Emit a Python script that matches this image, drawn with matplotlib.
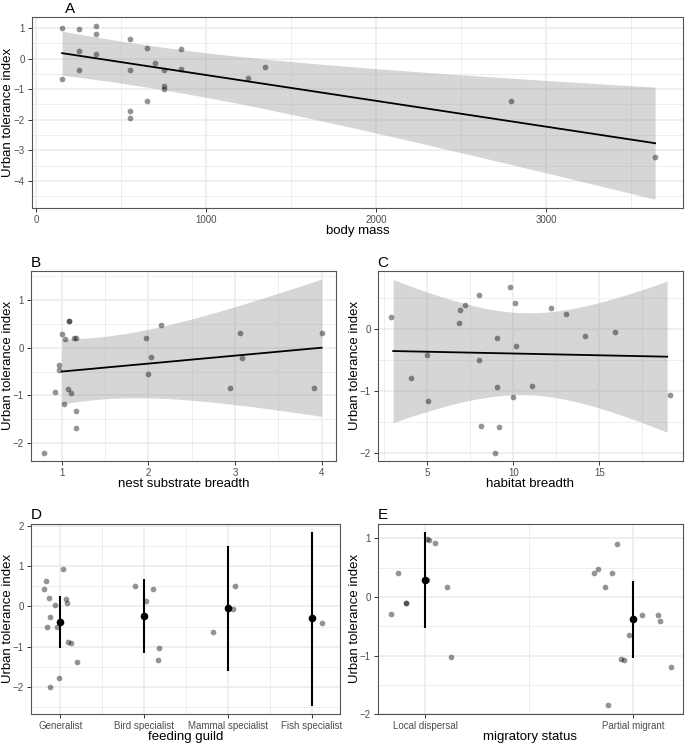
import numpy as np
import matplotlib
matplotlib.use("Agg")
import matplotlib.pyplot as plt

plt.rcParams['font.family'] = ['Liberation Sans', 'DejaVu Sans']

YLAB = "Urban tolerance index"

# ---------------- Panel A: body mass ----------------
mass_x = [153, 153, 253, 253, 253, 353, 353, 353, 552, 552, 552, 552,
          652, 652, 701, 752, 752, 752, 851, 851, 1248, 1348, 2793, 3639]
mass_y = [0.995, -0.675, 0.96, 0.25, -0.37, 1.08, 0.82, 0.155, 0.635, -0.37, -1.70, -1.95,
          0.33, -1.385, -0.14, -0.39, -0.89, -0.98, 0.32, -0.33, -0.62, -0.29, -1.386, -3.23]
mass_fit_x = [153, 3640]
mass_fit_y = [0.177, -2.77]
mass_ci_x = [153, 996, 3640]
mass_ci_hw = [0.72, 0.73, 1.834]

# ---------------- Panel B: nest substrate breadth ----------------
nest_x = [0.80, 0.92, 0.97, 0.97, 1.00, 1.03, 1.04, 1.08, 1.08, 1.076, 1.107, 1.14,
          1.17, 1.16, 1.16, 1.97, 1.99, 2.03, 2.145, 2.946, 3.06, 3.08, 3.91, 4.00]
nest_y = [-2.20, -0.92, -0.36, -0.47, 0.28, -1.19, 0.18, 0.56, 0.56, -0.87, -0.94, 0.21,
          0.21, -1.32, -1.68, 0.21, -0.55, -0.195, 0.476, -0.85, 0.315, -0.21, -0.84, 0.315]
nest_fit_x = [1.0, 4.0]
nest_fit_y = [-0.50, 0.0]
nest_ci_x = [1.0, 2.0, 4.0]
nest_ci_hw = [0.68, 0.72, 1.44]

# ---------------- Panel C: habitat breadth ----------------
hab_x = [2.89, 4.05, 4.98, 5.06, 6.83, 6.92, 7.17, 8.0, 8.0, 8.14, 8.92, 9.03,
         9.03, 9.19, 9.81, 10.0, 10.1, 10.14, 11.09, 12.17, 13.05, 14.17, 15.93, 19.11]
hab_y = [0.20, -0.78, -0.41, -1.16, 0.10, 0.305, 0.39, 0.54, -0.50, -1.555, -1.99, -0.14,
         -0.94, -1.58, 0.67, -1.09, 0.42, -0.28, -0.91, 0.34, 0.24, -0.11, -0.05, -1.06]
hab_fit_x = [3.02, 18.95]
hab_fit_y = [-0.354, -0.445]
hab_ci_x = [3.02, 10.5, 18.95]
hab_ci_hw = [1.15, 0.66, 1.215]

# ---------------- Panel D: feeding guild ----------------
guild_labels = ["Generalist", "Bird specialist", "Mammal specialist", "Fish specialist"]
guild_pt_x = [0.80, 0.83, 0.84, 0.87, 0.88, 0.88, 0.94, 0.96, 0.98, 1.03, 1.07, 1.08, 1.09, 1.13, 1.20,
              1.89, 2.02, 2.10, 2.18, 2.16,
              2.82, 3.06, 3.08,
              4.12]
guild_pt_y = [0.44, 0.64, -0.51, 0.21, -2.02, -0.26, 0.03, -0.51, -1.78, 0.93, 0.18, 0.08, -0.89, -0.92, -1.38,
              0.51, 0.13, 0.43, -1.04, -1.33,
              -0.64, -0.075, 0.51,
              -0.42]
guild_mean = [-0.38, -0.23, -0.04, -0.30]
guild_lo = [-1.04, -1.15, -1.61, -2.48]
guild_hi = [0.27, 0.68, 1.52, 1.87]

# ---------------- Panel E: migratory status ----------------
mig_labels = ["Local dispersal", "Partial migrant"]
mig_pt_x = [0.837, 0.867, 0.905, 0.905, 1.01, 1.016, 1.01, 1.046, 1.106, 1.123,
            1.81, 1.83, 1.865, 1.88, 1.90, 1.92, 1.94, 1.955, 1.98, 2.04, 2.12, 2.13, 2.18]
mig_pt_y = [-0.29, 0.41, -0.11, -0.11, 0.98, 0.97, 0.29, 0.91, 0.175, -1.03,
            0.41, 0.47, 0.175, -1.85, 0.40, 0.90, -1.06, -1.08, -0.655, -0.305, -0.305, -0.41, -1.20]
mig_mean = [0.28, -0.38]
mig_lo = [-0.53, -1.04]
mig_hi = [1.10, 0.27]

W, H = 685, 745
fig = plt.figure(figsize=(W / 100, H / 100), dpi=100)


def add_ax(left, top, right, bottom):
    return fig.add_axes([left / W, 1 - bottom / H, (right - left) / W, (bottom - top) / H])


GRID = '#EBEBEB'
BORDER = '#555555'
TICKC = '#4D4D4D'


def style(ax, xlim, ylim, xmaj, xmin, ymaj, ymin, ylab_px, ax_left_px, ax_w_px, ax_h_px, xlabel, title, title_x=0.0):
    ax.set_xlim(*xlim)
    ax.set_ylim(*ylim)
    ax.set_xticks(xmaj)
    ax.set_xticks(xmin, minor=True)
    ax.set_yticks(ymaj)
    ax.set_yticks(ymin, minor=True)
    ax.grid(which='major', color=GRID, lw=1.1)
    ax.grid(which='minor', color=GRID, lw=0.6)
    ax.set_axisbelow(True)
    ax.tick_params(which='minor', length=0)
    ax.tick_params(which='major', length=3, width=0.7, color='#333333', labelsize=7,
                   labelcolor=TICKC, pad=2)
    for s in ax.spines.values():
        s.set_color(BORDER)
        s.set_linewidth(0.8)
    ax.set_ylabel(YLAB, fontsize=9.5)
    ax.yaxis.set_label_coords((ylab_px - ax_left_px) / ax_w_px, 0.5)
    ax.yaxis.label.set_va('center')
    ax.set_xlabel(xlabel, fontsize=9.5)
    ax.xaxis.set_label_coords(0.5, -23.0 / ax_h_px)
    ax.xaxis.label.set_va('center')
    ax.set_title(title, loc='left', fontsize=11, pad=3, x=title_x)


def smooth(ax, fx, fy, cx, chw):
    xs = np.linspace(fx[0], fx[1], 80)
    yhat = np.interp(xs, fx, fy)
    coef = np.polyfit(cx, np.asarray(chw) ** 2, 2)
    hw = np.sqrt(np.clip(np.polyval(coef, xs), 0, None))
    ax.fill_between(xs, yhat - hw, yhat + hw, color='#999999', alpha=0.4, lw=0, zorder=2)
    ax.plot(xs, yhat, color='black', lw=1.3, zorder=4)


PT = dict(s=17, color='black', alpha=0.42, lw=0, zorder=3)

# A
axA = add_ax(32, 17, 683, 208)
axA.scatter(mass_x, mass_y, **PT)
smooth(axA, mass_fit_x, mass_fit_y, mass_ci_x, mass_ci_hw)
style(axA, (-24, 3804), (-4.89, 1.36), [0, 1000, 2000, 3000], [500, 1500, 2500, 3500],
      [-4, -3, -2, -1, 0, 1], [-4.5, -3.5, -2.5, -1.5, -0.5, 0.5],
      8, 32, 651, 191, "body mass", "A", title_x=(65 - 32) / 651)

# B
axB = add_ax(31, 270.7, 335.5, 460.7)
axB.scatter(nest_x, nest_y, **PT)
smooth(axB, nest_fit_x, nest_fit_y, nest_ci_x, nest_ci_hw)
style(axB, (0.645, 4.16), (-2.37, 1.615), [1, 2, 3, 4], [1.5, 2.5, 3.5],
      [-2, -1, 0, 1], [-1.5, -0.5, 0.5, 1.5],
      8, 31, 304.5, 190, "nest substrate breadth", "B")

# C
axC = add_ax(377.7, 270.7, 683, 460.7)
axC.scatter(hab_x, hab_y, **PT)
smooth(axC, hab_fit_x, hab_fit_y, hab_ci_x, hab_ci_hw)
style(axC, (2.12, 19.87), (-2.118, 0.938), [5, 10, 15], [2.5, 7.5, 12.5, 17.5],
      [-2, -1, 0], [-1.5, -0.5, 0.5],
      355, 377.7, 305.3, 190, "habitat breadth", "C")

# D
axD = add_ax(30.7, 523.5, 340, 714.3)
axD.scatter(guild_pt_x, guild_pt_y, **PT)
gpos = np.arange(1, len(guild_labels) + 1)
axD.vlines(gpos, guild_lo, guild_hi, color='black', lw=1.5, zorder=4)
axD.scatter(gpos, guild_mean, s=30, color='black', zorder=5, lw=0)
style(axD, (0.646, 4.338), (-2.69, 2.07), gpos, [1.5, 2.5, 3.5],
      [-2, -1, 0, 1, 2], [-2.5, -1.5, -0.5, 0.5, 1.5],
      8, 30.7, 309.3, 190.8, "feeding guild", "D")
axD.set_xticklabels(guild_labels)

# E
axE = add_ax(377.7, 523.5, 683, 714.3)
axE.scatter(mig_pt_x, mig_pt_y, **PT)
mpos = np.arange(1, len(mig_labels) + 1)
axE.vlines(mpos, mig_lo, mig_hi, color='black', lw=1.5, zorder=4)
axE.scatter(mpos, mig_mean, s=30, color='black', zorder=5, lw=0)
style(axE, (0.771, 2.239), (-2.0, 1.25), mpos, [1.5],
      [-2, -1, 0, 1], [-1.5, -0.5, 0.5],
      355, 377.7, 305.3, 190.8, "migratory status", "E")
axE.set_xticklabels(mig_labels)

fig.savefig("out.png", dpi=100)
